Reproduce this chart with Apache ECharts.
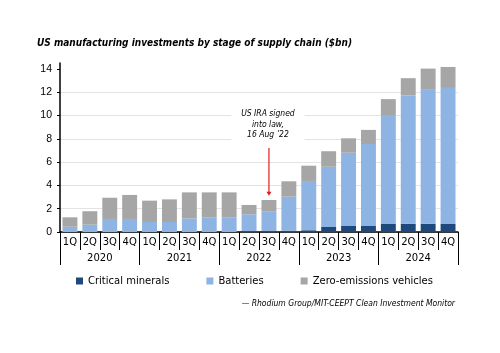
<!DOCTYPE html>
<html>
<head>
<meta charset="utf-8">
<script src="https://cdn.jsdelivr.net/npm/echarts@6/dist/echarts.min.js"></script>
<style>
  html, body { margin: 0; padding: 0; background: #fff; }
  #chart { width: 500px; height: 353px; }
</style>
</head>
<body>
<div id="chart"></div>
<script>
// quarters / years on the two-level x axis
var quarters = ['1Q','2Q','3Q','4Q','1Q','2Q','3Q','4Q','1Q','2Q','3Q','4Q','1Q','2Q','3Q','4Q','1Q','2Q','3Q','4Q'];
var years = ['2020', '2021', '2022', '2023', '2024'];
var yTicks = [0, 2, 4, 6, 8, 10, 12, 14];

// $bn
var criticalMinerals = [0, 0, 0, 0, 0, 0, 0, 0, 0, 0.08, 0.08, 0.1, 0.15, 0.43, 0.52, 0.52, 0.69, 0.71, 0.71, 0.69];
var batteries = [0.45, 0.63, 1.12, 1.12, 0.86, 0.86, 1.17, 1.23, 1.23, 1.44, 1.66, 2.93, 4.23, 5.17, 6.28, 7.03, 9.35, 10.99, 11.49, 11.67];
var zeroEmissionVehicles = [0.81, 1.15, 1.82, 2.06, 1.83, 1.94, 2.23, 2.17, 2.17, 0.8, 1.01, 1.32, 1.31, 1.33, 1.24, 1.21, 1.36, 1.5, 1.82, 1.8];

// IRA annotation sits on 3Q 2022
var iraIndex = 10;

var chart = echarts.init(document.getElementById('chart'));

var font = 'DejaVu Sans';
var narrow = "'DejaVu Sans Condensed', 'DejaVu Sans'";

chart.setOption({
    animation: false,
    color: ['#1f497d', '#8db4e2', '#a6a6a6'],
    title: {
        text: 'US manufacturing investments by stage of supply chain ($bn)',
        left: 37,
        top: 38,
        padding: 0,
        textStyle: {
            fontFamily: narrow,
            fontSize: 10,
            fontWeight: 'bold',
            fontStyle: 'italic',
            color: '#000'
        }
    },
    legend: {
        left: 71,
        top: 271,
        icon: 'rect',
        itemWidth: 7,
        itemHeight: 7,
        itemGap: 37,
        textStyle: { fontFamily: font, fontSize: 10, color: '#000' },
        data: ['Critical minerals', 'Batteries', 'Zero-emissions vehicles']
    },
    grid: { left: 60, right: 42, top: 63, bottom: 121 },
    xAxis: [
        {
            type: 'category',
            data: quarters,
            position: 'bottom',
            axisLine: { lineStyle: { color: '#000', width: 1.5 } },
            axisTick: { show: true, interval: 0, length: 18, lineStyle: { color: '#000' } },
            axisLabel: { interval: 0, margin: 5, fontFamily: font, fontSize: 10, color: '#000' }
        },
        {
            type: 'category',
            data: years,
            position: 'bottom',
            axisLine: { show: false },
            axisTick: { show: true, interval: 0, length: 33, lineStyle: { color: '#000' } },
            axisLabel: { interval: 0, margin: 21, fontFamily: font, fontSize: 10, color: '#000' }
        }
    ],
    yAxis: {
        type: 'value',
        min: 0,
        max: 14.5,
        axisLine: { show: true, lineStyle: { color: '#000', width: 1.5 } },
        axisTick: { show: true, length: 3, customValues: yTicks, lineStyle: { color: '#000' } },
        axisLabel: { customValues: yTicks, margin: 8, fontFamily: 'Liberation Sans', fontSize: 10.5, color: '#000' },
        splitLine: { show: true, showMaxLine: false, lineStyle: { color: '#e3e3e3', width: 1 } }
    },
    series: [
        {
            name: 'Critical minerals',
            type: 'bar',
            stack: 'total',
            barCategoryGap: '25%',
            data: criticalMinerals
        },
        {
            name: 'Batteries',
            type: 'bar',
            stack: 'total',
            data: batteries
        },
        {
            name: 'Zero-emissions vehicles',
            type: 'bar',
            stack: 'total',
            data: zeroEmissionVehicles
        }
    ]
});

// annotation placed from the axis scales
var iraTotal = criticalMinerals[iraIndex] + batteries[iraIndex] + zeroEmissionVehicles[iraIndex];
var textPt = chart.convertToPixel({ xAxisIndex: 0, yAxisIndex: 0 }, [iraIndex, 9.2]);
var arrowTop = chart.convertToPixel({ xAxisIndex: 0, yAxisIndex: 0 }, [iraIndex, 7.2]);
var arrowTip = chart.convertToPixel({ xAxisIndex: 0, yAxisIndex: 0 }, [iraIndex, iraTotal + 0.35]);

chart.setOption({
    graphic: [
        {
            type: 'text',
            z: 100,
            x: textPt[0] - 1,
            y: textPt[1],
            style: {
                text: 'US IRA signed\ninto law,\n16 Aug \u201922',
                font: 'italic 8.5px ' + narrow,
                fill: '#000',
                align: 'center',
                verticalAlign: 'middle',
                lineHeight: 10.5,
                backgroundColor: '#fff',
                padding: [6, 10]
            }
        },
        {
            type: 'line',
            z: 100,
            shape: { x1: arrowTop[0], y1: arrowTop[1], x2: arrowTip[0], y2: arrowTip[1] - 3 },
            style: { stroke: '#e02020', lineWidth: 1.2 }
        },
        {
            type: 'polygon',
            z: 100,
            shape: {
                points: [
                    [arrowTip[0] - 2.5, arrowTip[1] - 4],
                    [arrowTip[0] + 2.5, arrowTip[1] - 4],
                    [arrowTip[0], arrowTip[1]]
                ]
            },
            style: { fill: '#e02020' }
        },
        {
            type: 'text',
            z: 100,
            x: 455,
            y: 304,
            style: {
                text: '\u2014 Rhodium Group/MIT-CEEPT Clean Investment Monitor',
                font: 'italic 8.5px ' + narrow,
                fill: '#000',
                align: 'right',
                verticalAlign: 'middle'
            }
        }
    ]
});
</script>
</body>
</html>
